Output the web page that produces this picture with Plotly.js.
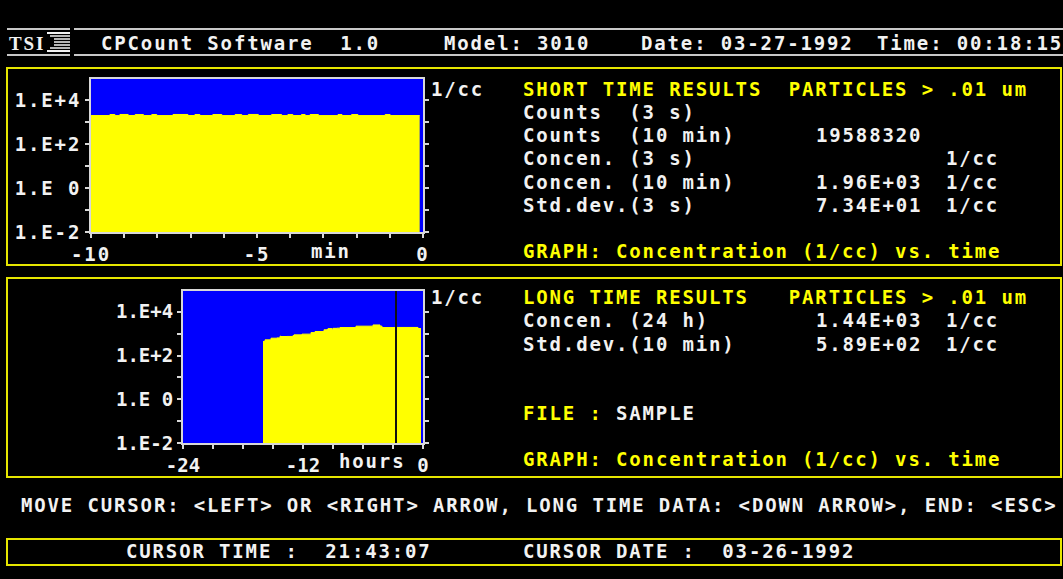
<!DOCTYPE html>
<html><head><meta charset="utf-8">
<script src="https://cdn.plot.ly/plotly-3.0.1.min.js"></script>
<style>
html,body{margin:0;padding:0;background:#000;overflow:hidden}
#chart{width:1063px;height:579px}
.annotation-text, .xtick text, .ytick text {letter-spacing:1.85px}
</style></head><body><div id="chart"></div>
<script>
const shortMinutes = [-10.0, -9.43, -9.28, -9.13, -8.88, -8.67, -8.42, -8.17, -8.02, -7.53, -7.08, -6.87, -6.72, -6.33, -6.06, -5.66, -5.46, -5.26, -4.96, -4.56, -4.26, -4.07, -3.92, -3.66, -3.55, -3.40, -3.15, -2.56, -2.44, -2.15, -1.96, -1.14, -0.99, -0.10];
const shortConcentration = [1950, 2170, 1940, 2180, 1960, 2160, 1950, 2170, 1945, 2180, 1955, 2165, 1950, 2175, 1940, 2160, 1950, 2185, 1960, 2170, 1945, 2160, 1955, 2170, 1950, 2175, 1940, 2165, 1950, 2170, 1945, 2160, 1950, 1950];
const longHours = [-16.0, -15.8, -15.2, -14.6, -14.3, -14.2, -13.6, -13.0, -12.9, -12.5, -12.1, -11.2, -10.8, -9.9, -9.6, -9.5, -9.1, -9.0, -8.6, -8.3, -6.7, -5.0, -4.3, -4.1, -2.8, -0.5, -0.2];
const longConcentration = [440, 520, 620, 640, 760, 740, 745, 820, 880, 880, 950, 1120, 1250, 1500, 1560, 1700, 1600, 1750, 1780, 1900, 2200, 2500, 2200, 1900, 1920, 1720, 1720];
const cursorHours = -2.7;
const yTickVals = [0.01, 0.1, 1, 10, 100, 1000, 10000];
const yTickText = ['1.E-2', '', '1.E 0', '', '1.E+2', '', '1.E+4'];
const shortTickVals = [-10, -9, -8, -7, -6, -5, -4, -3, -2, -1, 0];
const shortTickText = ['-10', '', '', '', '', '-5', '', '', '', '', '0'];
const longTickVals = [-24, -21, -18, -15, -12, -9, -6, -3, 0];
const longTickText = ['-24', '', '', '', '-12', '', '', '', '0'];

const W = 1063, H = 579;
const px = p => p / W, py = p => 1 - p / H;
const WHITE = '#F2F2F2', YEL = '#FFFF00', AX = '#D8D8D8';
const MONO = 'DejaVu Sans Mono';

const axisBase = {
  showline: true, linecolor: AX, linewidth: 2, ticks: 'outside', ticklen: 4, tickwidth: 2,
  tickcolor: AX, showgrid: false, zeroline: false, fixedrange: true,
  tickfont: {family: MONO, size: 19, color: WHITE, weight: 'bold'}
};

const traces = [
  {x: shortMinutes, y: shortConcentration, type: 'scatter', mode: 'lines',
   line: {shape: 'hv', width: 1, color: YEL}, fill: 'tozeroy', fillcolor: YEL,
   xaxis: 'x', yaxis: 'y', hoverinfo: 'skip'},
  {x: longHours, y: longConcentration, type: 'scatter', mode: 'lines',
   line: {shape: 'hv', width: 1, color: YEL}, fill: 'tozeroy', fillcolor: YEL,
   xaxis: 'x2', yaxis: 'y2', hoverinfo: 'skip'}
];

function esc(s) {
  return s.replace(/&/g, '&amp;').replace(/</g, '&lt;').replace(/>/g, '&gt;').replace(/ /g, '\u00A0');
}
function txt(x, y, s, color, extra) {
  return Object.assign({
    xref: 'paper', yref: 'paper', x: px(x), y: py(y), xanchor: 'left', yanchor: 'middle',
    text: esc(s), showarrow: false, borderpad: 0,
    font: {family: MONO, size: 19, color: color || WHITE, weight: 'bold'}
  }, extra || {});
}

const annotations = [
  txt(8, 43, 'TSI', WHITE, {font: {family: 'Liberation Serif', size: 19, color: WHITE, weight: 'bold'}}),
  txt(100, 43, 'CPCount Software  1.0'),
  txt(443, 43, 'Model: 3010'),
  txt(640, 43, 'Date: 03-27-1992'),
  txt(876, 43, 'Time: 00:18:15'),

  txt(430, 89, '1/cc'),
  txt(310, 251, 'min'),
  txt(522, 89, 'SHORT TIME RESULTS  PARTICLES > .01 um', YEL),
  txt(522, 112, 'Counts  (3 s)'),
  txt(522, 135, 'Counts  (10 min)'),
  txt(815, 135, '19588320'),
  txt(522, 158, 'Concen. (3 s)'),
  txt(945, 158, '1/cc'),
  txt(522, 182, 'Concen. (10 min)'),
  txt(815, 182, '1.96E+03'),
  txt(945, 182, '1/cc'),
  txt(522, 205, 'Std.dev.(3 s)'),
  txt(815, 205, '7.34E+01'),
  txt(945, 205, '1/cc'),
  txt(522, 251, 'GRAPH: Concentration (1/cc) vs. time', YEL),

  txt(430, 297, '1/cc'),
  txt(338, 461, 'hours'),
  txt(522, 297, 'LONG TIME RESULTS   PARTICLES > .01 um', YEL),
  txt(522, 320, 'Concen. (24 h)'),
  txt(815, 320, '1.44E+03'),
  txt(945, 320, '1/cc'),
  txt(522, 344, 'Std.dev.(10 min)'),
  txt(815, 344, '5.89E+02'),
  txt(945, 344, '1/cc'),
  txt(522, 413, 'FILE :', YEL),
  txt(615, 413, 'SAMPLE'),
  txt(522, 459, 'GRAPH: Concentration (1/cc) vs. time', YEL),

  txt(20, 505, 'MOVE CURSOR: <LEFT> OR <RIGHT> ARROW, LONG TIME DATA: <DOWN ARROW>, END: <ESC>'),
  txt(125, 551, 'CURSOR TIME :  21:43:07'),
  txt(522, 551, 'CURSOR DATE :  03-26-1992')
];

function pline(x0, y0, x1, y1, color, w) {
  return {type: 'line', xref: 'paper', yref: 'paper', x0: px(x0), x1: px(x1), y0: py(y0), y1: py(y1),
          line: {color: color, width: w}, layer: 'above'};
}
function prect(x0, y0, x1, y1, color, w) {
  return {type: 'rect', xref: 'paper', yref: 'paper', x0: px(x0), x1: px(x1), y0: py(y0), y1: py(y1),
          line: {color: color, width: w}, fillcolor: 'rgba(0,0,0,0)', layer: 'below'};
}
const FR = '#E6E600';
const shapes = [
  pline(7, 29, 70, 29, '#C8C8C8', 2), pline(74, 29, 1063, 29, '#C8C8C8', 2),
  pline(7, 55, 70, 55, '#C8C8C8', 2), pline(74, 55, 1063, 55, '#C8C8C8', 2),
  pline(47, 33, 70, 33, WHITE, 2), pline(50, 36, 70, 36, WHITE, 1.5),
  pline(54, 39, 70, 39, WHITE, 1.5), pline(54, 42, 70, 42, WHITE, 1.5),
  pline(54, 45, 70, 45, WHITE, 1.5), pline(50, 48, 70, 48, WHITE, 1.5),
  pline(47, 51, 70, 51, WHITE, 2),
  prect(7, 68, 1061, 265, FR, 2),
  prect(7, 278, 1061, 477, FR, 2),
  prect(7, 539, 1061, 565, FR, 2),
  {type: 'line', xref: 'x2', yref: 'y2 domain', x0: cursorHours, x1: cursorHours, y0: 0, y1: 1,
   line: {color: '#111111', width: 2}, layer: 'above'}
];

const layout = {
  width: W, height: H, margin: {l: 0, r: 0, t: 0, b: 0},
  paper_bgcolor: '#000000', plot_bgcolor: '#0000FF', showlegend: false,
  xaxis: Object.assign({}, axisBase, {domain: [px(91), px(423)], range: [-10, 0], anchor: 'y',
    tickmode: 'array', tickvals: shortTickVals, ticktext: shortTickText, mirror: true}),
  yaxis: Object.assign({}, axisBase, {domain: [py(232), py(79)], type: 'log', range: [-2, 4.95], anchor: 'x',
    tickmode: 'array', tickvals: yTickVals, ticktext: yTickText, mirror: 'ticks'}),
  xaxis2: Object.assign({}, axisBase, {domain: [px(183), px(423)], range: [-24, 0], anchor: 'y2',
    tickmode: 'array', tickvals: longTickVals, ticktext: longTickText, mirror: true}),
  yaxis2: Object.assign({}, axisBase, {domain: [py(443), py(291)], type: 'log', range: [-2, 4.95], anchor: 'x2',
    tickmode: 'array', tickvals: yTickVals, ticktext: yTickText, mirror: 'ticks'}),
  annotations: annotations,
  shapes: shapes
};

Plotly.newPlot('chart', traces, layout, {displayModeBar: false, staticPlot: true});
</script></body></html>
